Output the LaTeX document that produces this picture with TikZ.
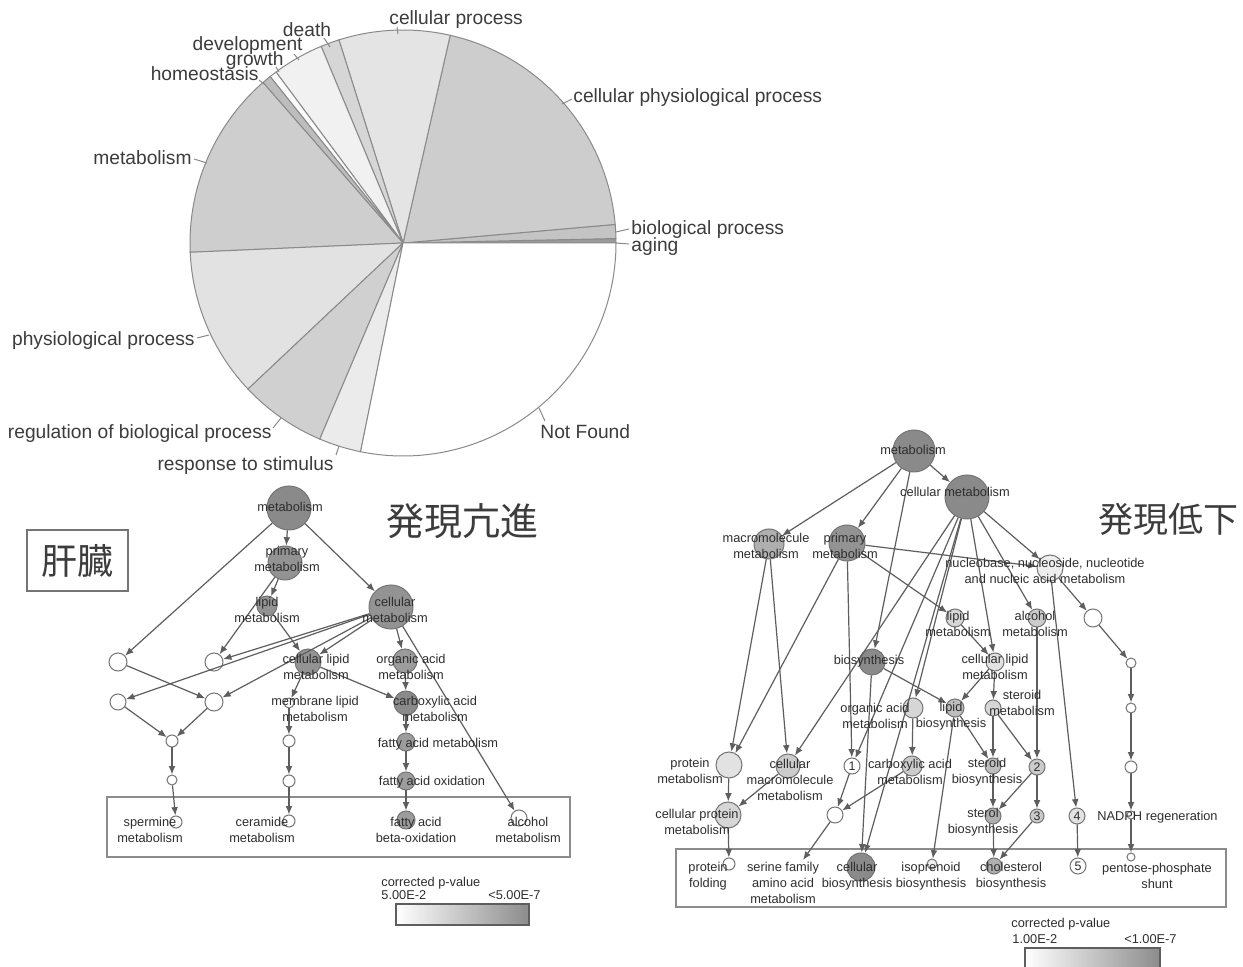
\documentclass[tikz,border=0pt]{standalone}
\usepackage{fontspec}
\setmainfont{Liberation Sans}
\newfontfamily\cjk{Noto Sans CJK JP}
\usetikzlibrary{arrows.meta}

\definecolor{txt}{HTML}{3C3C3C}
\definecolor{gtxt}{HTML}{2E2E2E}
\definecolor{pieedge}{HTML}{8A8A8A}
\definecolor{edgec}{HTML}{5E5E5E}
\definecolor{nedge}{HTML}{747474}
\definecolor{boxc}{HTML}{8C8C8C}
% pie slice fills
\definecolor{pAging}{HTML}{9A9A9A}
\definecolor{pBio}{HTML}{C4C4C4}
\definecolor{pCphys}{HTML}{CDCDCD}
\definecolor{pCell}{HTML}{E4E4E4}
\definecolor{pDeath}{HTML}{D6D6D6}
\definecolor{pDev}{HTML}{F1F1F1}
\definecolor{pGrowth}{HTML}{FBFBFB}
\definecolor{pHomeo}{HTML}{BDBDBD}
\definecolor{pMetab}{HTML}{CECECE}
\definecolor{pPhys}{HTML}{E2E2E2}
\definecolor{pReg}{HTML}{D0D0D0}
\definecolor{pResp}{HTML}{EBEBEB}
\definecolor{pNF}{HTML}{FFFFFF}
% node fills (p-value shades)
\definecolor{g1}{HTML}{8A8A8A}
\definecolor{g2}{HTML}{939393}
\definecolor{g3}{HTML}{9C9C9C}
\definecolor{g4}{HTML}{AFAFAF}
\definecolor{g5}{HTML}{BEBEBE}
\definecolor{g6}{HTML}{CBCBCB}
\definecolor{g7}{HTML}{D6D6D6}
\definecolor{g8}{HTML}{E2E2E2}
\definecolor{g9}{HTML}{EEEEEE}
\definecolor{barend}{HTML}{8C8C8C}

\tikzset{
  go/.style 2 args={circle, draw=nedge, fill=#2, minimum size=#1pt, inner sep=0pt, line width=0.5pt},
  numnode/.style={font=\fontsize{6.2}{7}\selectfont, text=gtxt},
  lbl/.style={font=\fontsize{6.4}{7.8}\selectfont, text=gtxt, align=center, inner sep=0pt},
  pielbl/.style={font=\fontsize{9.6}{11}\selectfont, text=txt, inner sep=0pt},
  lead/.style={draw=pieedge, line width=0.5pt},
  arr/.style={draw=edgec, line width=0.6pt, -{Latex[length=4.2pt,width=3.4pt]}},
  framebox/.style={draw=boxc, line width=0.6pt},
  slice/.style={draw=pieedge, line width=0.5pt},
}

\begin{document}
\begin{tikzpicture}[x=0.5pt,y=-0.5pt]
\useasboundingbox (0,0) rectangle (1243,967);
\fill[white] (0,0) rectangle (1243,967);

%% ---------------- pie chart ----------------
\begin{scope}[shift={(403,243)}, yscale=-1]
\foreach \a/\b/\c in {0/1.2/pAging, 1.2/5/pBio, 5/77.2/pCphys, 77.2/107.5/pCell,
  107.5/112.6/pDeath, 112.6/126.6/pDev, 126.6/128.6/pGrowth, 128.6/131.1/pHomeo,
  131.1/182.5/pMetab, 182.5/223.3/pPhys, 223.3/247/pReg, 247/258.5/pResp, 258.5/360/pNF}
  \filldraw[slice, fill=\c] (0,0) -- (\a:213) arc[start angle=\a, end angle=\b, radius=213] -- cycle;
\end{scope}

\node[pielbl, anchor=mid west] (tCell) at (389,19) {cellular process};
\node[pielbl, anchor=mid] (tDeath) at (307,31) {death};
\node[pielbl, anchor=mid east] (tDev) at (303,45) {development};
\node[pielbl, anchor=mid east] (tGrowth) at (284,60) {growth};
\node[pielbl, anchor=mid east] (tHomeo) at (259,75) {homeostasis};
\node[pielbl, anchor=mid west] (tCphys) at (573,97) {cellular physiological process};
\node[pielbl, anchor=mid east] (tMetab) at (192,159) {metabolism};
\node[pielbl, anchor=mid west] (tBio) at (631,229) {biological process};
\node[pielbl, anchor=mid west] (tAging) at (631,246) {aging};
\node[pielbl, anchor=mid east] (tPhys) at (195,340) {physiological process};
\node[pielbl, anchor=mid east] (tReg) at (272,433) {regulation of biological process};
\node[pielbl, anchor=mid west] (tNF) at (540,433) {Not Found};
\node[pielbl, anchor=mid east] (tResp) at (334,465) {response to stimulus};

\draw[lead] (397,27) -- (398,34);
\draw[lead] (324,38) -- (330,47);
\draw[lead] (294,54) -- (299,60);
\draw[lead] (276,67) -- (279,72);
\draw[lead] (259,80) -- (264,84);
\draw[lead] (572,99) -- (562,104);
\draw[lead] (629,229) -- (616,232);
\draw[lead] (629,244) -- (616,243);
\draw[lead] (194,159) -- (207,163);
\draw[lead] (197,338) -- (209,335);
\draw[lead] (273,428) -- (281,418);
\draw[lead] (336,455) -- (339,446);
\draw[lead] (545,421) -- (539,408);

%% ---------------- up-regulated (liver) ----------------
\node[draw=nedge, line width=0.6pt, minimum width=50.5pt, minimum height=30.5pt, inner sep=0pt,
  font=\cjk\fontsize{18}{20}\selectfont, text=txt] (liver) at (77.5,560.5) {肝臓};
\node[font=\cjk\fontsize{19}{21}\selectfont, text=txt, inner sep=0pt] (upTitle) at (462,521) {発現亢進};

\draw[framebox] (107,797) rectangle (570,857);

\node[go={22}{g1}] (lm) at (289,508) {};
\node[go={17}{g2}] (lp) at (285,563) {};
\node[go={10}{g2}] (ll) at (267,606) {};
\node[go={22}{g2}] (lc) at (391,607) {};
\node[go={9}{white}] (lA) at (118,662) {};
\node[go={9}{white}] (lB) at (214,662) {};
\node[go={8}{white}] (lC) at (118,702) {};
\node[go={9}{white}] (lD) at (214,702) {};
\node[go={6}{white}] (lE) at (172,741) {};
\node[go={5}{white}] (lF) at (172,780) {};
\node[go={6}{white}] (lG) at (176,822) {};
\node[go={13}{g2}] (lcl) at (308,662) {};
\node[go={12}{g3}] (loa) at (405,661) {};
\node[go={5}{white}] (lmem) at (289,703) {};
\node[go={12}{g1}] (lca) at (406,703) {};
\node[go={6}{white}] (lm1) at (289,741) {};
\node[go={6}{white}] (lm2) at (289,781) {};
\node[go={6}{white}] (lcer) at (289,821) {};
\node[go={9}{g3}] (lfam) at (406,742) {};
\node[go={9}{g3}] (lfao) at (406,781) {};
\node[go={9}{g3}] (lbeta) at (406,820) {};
\node[go={8}{white}] (lalc) at (519,818) {};

\draw[arr] (lm) -- (lp);
\draw[arr] (lm) -- (lc);
\draw[arr] (lm) -- (lA);
\draw[arr] (lp) -- (ll);
\draw[arr] (lp) -- (lB);
\draw[arr] (ll) -- (lcl);
\draw[arr] (lc) -- (lB);
\draw[arr] (lc) -- (lC);
\draw[arr] (lc) -- (lD);
\draw[arr] (lc) -- (lcl);
\draw[arr] (lc) -- (loa);
\draw[arr] (lc) -- (lalc);
\draw[arr] (lA) -- (lD);
\draw[arr] (lC) -- (lE);
\draw[arr] (lD) -- (lE);
\draw[arr] (lE) -- (lF);
\draw[arr] (lF) -- (lG);
\draw[arr] (lcl) -- (lmem);
\draw[arr] (lcl) -- (lca);
\draw[arr] (loa) -- (lca);
\draw[arr] (lmem) -- (lm1);
\draw[arr] (lm1) -- (lm2);
\draw[arr] (lm2) -- (lcer);
\draw[arr] (lca) -- (lfam);
\draw[arr] (lfam) -- (lfao);
\draw[arr] (lfao) -- (lbeta);

\node[lbl] (tlm) at (290,507) {metabolism};
\node[lbl] (tlp) at (287,559) {primary\\metabolism};
\node[lbl] (tll) at (267,610) {lipid\\metabolism};
\node[lbl] (tlc) at (395,610) {cellular\\metabolism};
\node[lbl] (tlcl) at (316,667) {cellular lipid\\metabolism};
\node[lbl] (tloa) at (411,667) {organic acid\\metabolism};
\node[lbl] (tlmem) at (315,709) {membrane lipid\\metabolism};
\node[lbl] (tlca) at (435,709) {carboxylic acid\\metabolism};
\node[lbl] (tlfam) at (438,744) {fatty acid metabolism};
\node[lbl] (tlfao) at (432,782) {fatty acid oxidation};
\node[lbl] (tlbeta) at (416,830) {fatty acid\\beta-oxidation};
\node[lbl] (tlalc) at (528,830) {alcohol\\metabolism};
\node[lbl] (tlsp) at (150,830) {spermine\\metabolism};
\node[lbl] (tlcer) at (262,830) {ceramide\\metabolism};

% legend
\node[lbl, anchor=mid west] (lgA) at (381,881) {corrected p-value};
\node[lbl, anchor=mid west] (lgB) at (381,894) {5.00E-2};
\node[lbl, anchor=mid east] (lgC) at (541,894) {<5.00E-7};
\shade[left color=white, right color=barend, draw=edgec, line width=0.6pt] (396,904) rectangle (529,925);

%% ---------------- down-regulated ----------------
\node[font=\cjk\fontsize{17.5}{20}\selectfont, text=txt, inner sep=0pt] (downTitle) at (1168,519) {発現低下};

\draw[framebox] (676,849) rectangle (1226,907);

\node[go={21}{g1}] (rm) at (914,451) {};
\node[go={22}{g1}] (rcm) at (967,497) {};
\node[go={15}{g4}] (rmac) at (769,544) {};
\node[go={18}{g2}] (rpri) at (847,543) {};
\node[go={13}{g9}] (rnuc) at (1050,568) {};
\node[go={9}{g7}] (rlip) at (955,618) {};
\node[go={9}{g6}] (ralc) at (1037,618) {};
\node[go={9}{white}] (rW2) at (1093,618) {};
\node[go={5}{white}] (rc1) at (1131,663) {};
\node[go={5}{white}] (rc2) at (1131,708) {};
\node[go={6}{white}] (rc3) at (1131,767) {};
\node[go={13}{g1}] (rbio) at (872,662) {};
\node[go={9}{g8}] (rcl) at (995,662) {};
\node[go={10}{g7}] (roa) at (913,708) {};
\node[go={9}{g5}] (rlb) at (955,708) {};
\node[go={8}{g7}] (rstm) at (993,708) {};
\node[go={13}{g8}] (rprot) at (729,765) {};
\node[go={12}{g6}] (rcmm) at (788,766) {};
\node[go={8}{white}, numnode] (r1) at (852,766) {1};
\node[go={10}{g6}] (rca) at (912,766) {};
\node[go={8}{g5}] (rstb) at (993,766) {};
\node[go={8}{g6}, numnode] (r2) at (1037,767) {2};
\node[go={13}{g7}] (rcprot) at (728,815) {};
\node[go={8}{white}] (rW) at (835,815) {};
\node[go={8}{g4}] (rster) at (993,816) {};
\node[go={7}{g6}, numnode] (r3) at (1037,816) {3};
\node[go={8}{g8}, numnode] (r4) at (1077,816) {4};
\node[go={4}{white}] (rnadph) at (1131,815) {};
\node[go={6}{white}] (rfold) at (729,864) {};
\coordinate (rser) at (803,860);
\node[go={14}{g1}] (rcbio) at (861,867) {};
\node[go={5}{g9}] (riso) at (932,864) {};
\node[go={8}{g4}] (rchol) at (994,866) {};
\node[go={8}{white}, numnode] (r5) at (1078,866) {5};
\node[go={4}{white}] (rpent) at (1131,857) {};

\draw[arr] (rm) -- (rcm);
\draw[arr] (rm) -- (rmac);
\draw[arr] (rm) -- (rpri);
\draw[arr] (rm) -- (rbio);
\draw[arr] (rcm) -- (rcmm);
\draw[arr] (rcm) -- (r1);
\draw[arr] (rcm) -- (rcbio);
\draw[arr] (rcm) -- (roa);
\draw[arr] (rcm) -- (rcl);
\draw[arr] (rcm) -- (ralc);
\draw[arr] (rcm) -- (rnuc);
\draw[arr] (rmac) -- (rprot);
\draw[arr] (rmac) -- (rcmm);
\draw[arr] (rpri) -- (rprot);
\draw[arr] (rpri) -- (r1);
\draw[arr] (rpri) -- (rlip);
\draw[arr] (rpri) -- (rnuc);
\draw[arr] (rbio) -- (rlb);
\draw[arr] (rbio) -- (rcbio);
\draw[arr] (rlip) -- (rcl);
\draw[arr] (rcl) -- (rlb);
\draw[arr] (rcl) -- (rstm);
\draw[arr] (roa) -- (rca);
\draw[arr] (rlb) -- (riso);
\draw[arr] (rlb) -- (rstb);
\draw[arr] (rstm) -- (rstb);
\draw[arr] (rstm) -- (r2);
\draw[arr] (ralc) -- (r2);
\draw[arr] (r2) -- (r3);
\draw[arr] (r2) -- (rster);
\draw[arr] (rstb) -- (rster);
\draw[arr] (rster) -- (rchol);
\draw[arr] (r3) -- (rchol);
\draw[arr] (r1) -- (rW);
\draw[arr] (rca) -- (rW);
\draw[arr] (rW) -- (rser);
\draw[arr] (rprot) -- (rcprot);
\draw[arr] (rcmm) -- (rcprot);
\draw[arr] (rcprot) -- (rfold);
\draw[arr] (rnuc) -- (rW2);
\draw[arr] (rnuc) -- (r4);
\draw[arr] (rW2) -- (rc1);
\draw[arr] (rc1) -- (rc2);
\draw[arr] (rc2) -- (rc3);
\draw[arr] (rc3) -- (rnadph);
\draw[arr] (rnadph) -- (rpent);
\draw[arr] (r4) -- (r5);

\node[lbl] (trm) at (913,450) {metabolism};
\node[lbl] (trcm) at (955,492) {cellular metabolism};
\node[lbl] (trmac) at (766,546) {macromolecule\\metabolism};
\node[lbl] (trpri) at (845,546) {primary\\metabolism};
\node[lbl] (trnuc) at (1045,571) {nucleobase, nucleoside, nucleotide\\and nucleic acid metabolism};
\node[lbl] (trlip) at (958,624) {lipid\\metabolism};
\node[lbl] (tralc) at (1035,624) {alcohol\\metabolism};
\node[lbl] (trbio) at (869,661) {biosynthesis};
\node[lbl] (trcl) at (995,667) {cellular lipid\\metabolism};
\node[lbl] (troa) at (875,716) {organic acid\\metabolism};
\node[lbl] (trlb) at (951,716) {lipid\\biosynthesis};
\node[lbl] (trstm) at (1022,703) {steroid\\metabolism};
\node[lbl] (trprot) at (690,771) {protein\\metabolism};
\node[lbl] (trcmm) at (790,780) {cellular\\macromolecule\\metabolism};
\node[lbl] (trca) at (910,772) {carboxylic acid\\metabolism};
\node[lbl] (trstb) at (987,772) {steroid\\biosynthesis};
\node[lbl, anchor=mid west] (trnadph) at (1097,815) {NADPH regeneration};
\node[lbl] (trcprot) at (697,822) {cellular protein\\metabolism};
\node[lbl] (trster) at (983,822) {sterol\\biosynthesis};
\node[lbl] (trfold) at (708,876) {protein\\folding};
\node[lbl] (trser) at (783,883) {serine family\\amino acid\\metabolism};
\node[lbl] (trcbio) at (857,876) {cellular\\biosynthesis};
\node[lbl] (triso) at (931,876) {isoprenoid\\biosynthesis};
\node[lbl] (trchol) at (1011,876) {cholesterol\\biosynthesis};
\node[lbl] (trpent) at (1157,876) {pentose-phosphate\\shunt};

% legend
\node[lbl, anchor=mid west] (rgA) at (1011,922) {corrected p-value};
\node[lbl, anchor=mid west] (rgB) at (1012,938) {1.00E-2};
\node[lbl, anchor=mid east] (rgC) at (1177,938) {<1.00E-7};
\shade[left color=white, right color=barend, draw=edgec, line width=0.6pt] (1025,948) rectangle (1160,975);
\end{tikzpicture}
\end{document}
